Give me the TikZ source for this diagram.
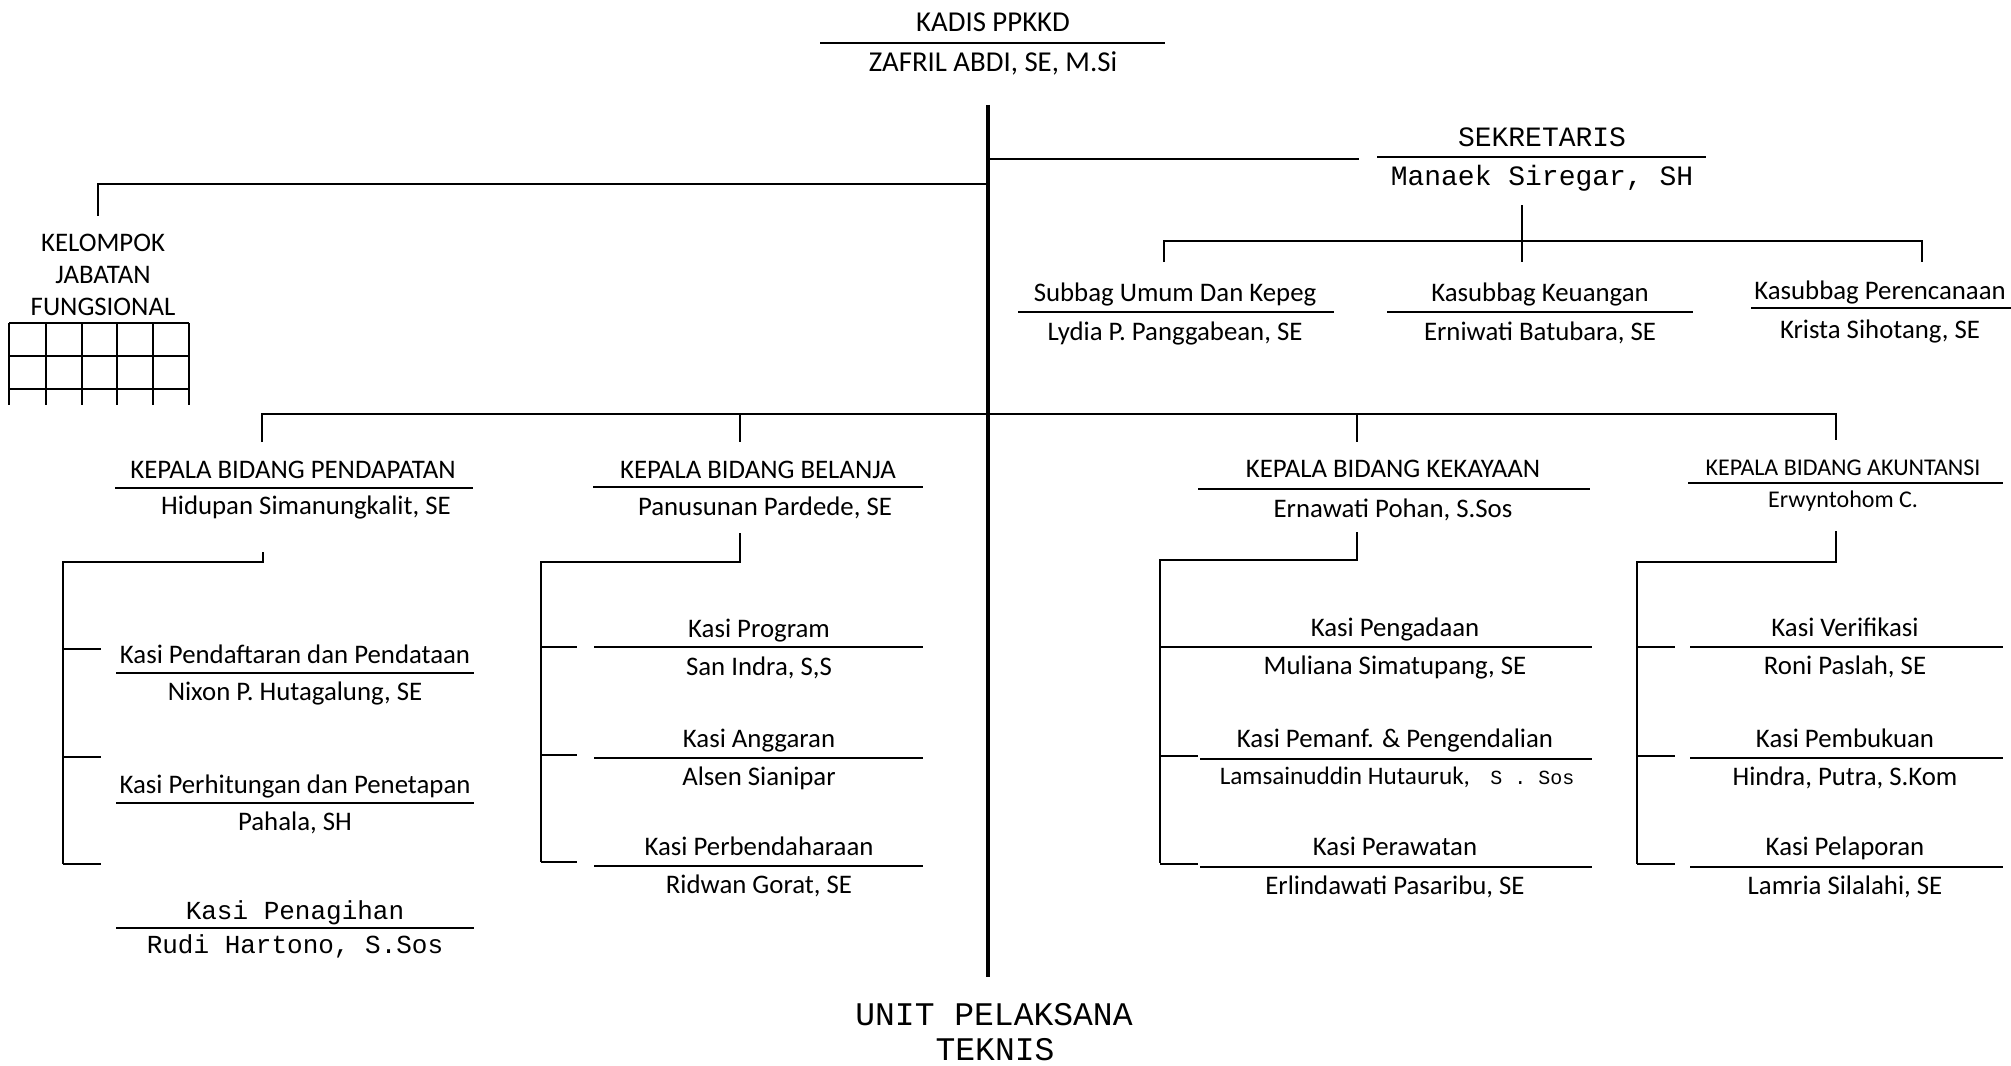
\documentclass[tikz,border=0pt]{standalone}
\usepackage{fontspec}
\setmainfont{Carlito}
\newfontfamily\typew{Liberation Mono}

\begin{document}
\begin{tikzpicture}[x=0.5pt, y=-0.5pt,
    lbl/.style={inner sep=0pt, text height=8.7pt, text depth=0pt, font=\fontsize{13.4}{15}\selectfont},
    big/.style={lbl, font=\fontsize{14.4}{16}\selectfont},
    small/.style={lbl, text height=7.8pt, font=\fontsize{12}{13}\selectfont},
    tw/.style={lbl, font=\typew\fontsize{13}{15}\selectfont},
    twbig/.style={lbl, font=\typew\fontsize{14}{16}\selectfont},
    twhuge/.style={lbl, text height=11pt, font=\typew\fontsize{16.5}{19}\selectfont},
    rule/.style={line width=1.1pt},
    link/.style={line width=0.8pt},
    trunk/.style={line width=1.8pt}]
    \useasboundingbox (0,0) rectangle (2011,1065);

    % Kepala dinas dan sekretariat
    \node[big] (kadis) at (993,23) {KADIS PPKKD};
    \node[big] (zafril) at (993,63) {ZAFRIL ABDI, SE, M.Si};
    \node[twbig] (sek) at (1542,138) {SEKRETARIS};
    \node[twbig] (manaek) at (1542,177) {Manaek Siregar, SH};
    \node[lbl] (umum) at (1175,293) {Subbag Umum Dan Kepeg};
    \node[lbl] (lydia) at (1175,332) {Lydia P. Panggabean, SE};
    \node[lbl] (keu) at (1540,293) {Kasubbag Keuangan};
    \node[lbl] (erniwati) at (1540,332) {Erniwati Batubara, SE};
    \node[lbl] (ren) at (1880,291) {Kasubbag Perencanaan};
    \node[lbl] (krista) at (1880,330) {Krista Sihotang, SE};
    \node[align=center, inner sep=0pt, font=\fontsize{13.4}{16}\selectfont] (kjf) at (103,275) {KELOMPOK\\JABATAN\\FUNGSIONAL};

    % Kepala bidang
    \node[lbl] (pdp) at (293,470) {KEPALA BIDANG PENDAPATAN};
    \node[lbl] (hidupan) at (306,506) {Hidupan Simanungkalit, SE};
    \node[lbl] (blj) at (758,470) {KEPALA BIDANG BELANJA};
    \node[lbl] (panusunan) at (765,507) {Panusunan Pardede, SE};
    \node[lbl] (kky) at (1393,469) {KEPALA BIDANG KEKAYAAN};
    \node[lbl] (ernawati) at (1393,509) {Ernawati Pohan, S.Sos};
    \node[small] (akt) at (1843,468) {KEPALA BIDANG AKUNTANSI};
    \node[small] (erwyn) at (1843,500) {Erwyntohom C.};

    % Kasi bidang pendapatan
    \node[lbl] (pdp1) at (295,655) {Kasi Pendaftaran dan Pendataan};
    \node[lbl] (nixon) at (295,692) {Nixon P. Hutagalung, SE};
    \node[lbl] (pdp2) at (295,785) {Kasi Perhitungan dan Penetapan};
    \node[lbl] (pahala) at (295,822) {Pahala, SH};
    \node[tw] (pdp3) at (295,911) {Kasi Penagihan};
    \node[tw] (rudi) at (295,945) {Rudi Hartono, S.Sos};

    % Kasi bidang belanja
    \node[lbl] (blj1) at (759,629) {Kasi Program};
    \node[lbl] (sanindra) at (759,667) {San Indra, S,S};
    \node[lbl] (blj2) at (759,739) {Kasi Anggaran};
    \node[lbl] (alsen) at (759,777) {Alsen Sianipar};
    \node[lbl] (blj3) at (759,847) {Kasi Perbendaharaan};
    \node[lbl] (ridwan) at (759,885) {Ridwan Gorat, SE};

    % Kasi bidang kekayaan
    \node[lbl] (kky1) at (1395,628) {Kasi Pengadaan};
    \node[lbl] (muliana) at (1395,666) {Muliana Simatupang, SE};
    \node[lbl] (kky2) at (1395,739) {Kasi Pemanf. \& Pengendalian};
    \node[lbl, font=\fontsize{12.6}{14}\selectfont] (lamsai) at (1397,776) {Lamsainuddin Hutauruk,\hspace{0.8em}{\typew\fontsize{10}{12}\selectfont S . Sos}};
    \node[lbl] (kky3) at (1395,847) {Kasi Perawatan};
    \node[lbl] (erlinda) at (1395,886) {Erlindawati Pasaribu, SE};

    % Kasi bidang akuntansi
    \node[lbl] (akt1) at (1845,628) {Kasi Verifikasi};
    \node[lbl] (roni) at (1845,666) {Roni Paslah, SE};
    \node[lbl] (akt2) at (1845,739) {Kasi Pembukuan};
    \node[lbl] (hindra) at (1845,777) {Hindra, Putra, S.Kom};
    \node[lbl] (akt3) at (1845,847) {Kasi Pelaporan};
    \node[lbl] (lamria) at (1845,886) {Lamria Silalahi, SE};

    \node[twhuge] (upt1) at (994,1014) {UNIT PELAKSANA};
    \node[twhuge] (upt2) at (995,1049) {TEKNIS};

    % Garis nama jabatan
    \draw[rule] (820,43) -- (1165,43);
    \draw[rule] (1377,157) -- (1706,157);
    \draw[rule] (1018,312) -- (1334,312);
    \draw[rule] (1387,312) -- (1693,312);
    \draw[rule] (1751,308) -- (2011,308);
    \draw[rule] (115,488) -- (473,488);
    \draw[rule] (593,487) -- (923,487);
    \draw[rule] (1198,489) -- (1590,489);
    \draw[rule] (1688,483) -- (2003,483);
    \foreach \y in {673,803,928} \draw[rule] (116,\y) -- (474,\y);
    \foreach \y in {647,758,866} \draw[rule] (594,\y) -- (923,\y);
    \draw[rule] (1160,647) -- (1592,647);
    \foreach \y in {759,867} \draw[rule] (1200,\y) -- (1592,\y);
    \foreach \y in {647,758,867} \draw[rule] (1690,\y) -- (2003,\y);

    % Garis komando
    \coordinate (t0) at (988,105);
    \coordinate (t1) at (988,977);
    \draw[trunk] (t0) -- (t1);
    \coordinate (jkjf) at (988,184);
    \coordinate (kjfin) at (98,216);
    \draw[link] (jkjf) -| (kjfin);
    \coordinate (jsek) at (988,159);
    \coordinate (sekin) at (1359,159);
    \draw[link] (jsek) -- (sekin);
    \coordinate (seksub) at (1522,205);
    \draw[link] (seksub) -- ++(0,57);
    \draw[link] (1164,262) |- (1922,241) -- ++(0,21);
    \draw[link] (262,442) |- (1836,414) -- ++(0,26);
    \foreach \x in {740,1357} \draw[link] (\x,414) -- ++(0,28);

    \draw[link] (263,552) -- ++(0,10) -| (63,864);
    \foreach \y in {649,757,864} \draw[link] (63,\y) -- ++(38,0);
    \draw[link] (740,533) -- ++(0,29) -| (541,862);
    \foreach \y in {647,755,862} \draw[link] (541,\y) -- ++(36,0);
    \draw[link] (1357,532) -- ++(0,28) -| (1160,863);
    \foreach \y in {756,864} \draw[link] (1160,\y) -- ++(38,0);
    \draw[link] (1836,531) -- ++(0,31) -| (1637,864);
    \foreach \y in {647,756,864} \draw[link] (1637,\y) -- ++(38,0);

    % Kotak jabatan fungsional
    \foreach \y in {323,356,389} \draw[link] (9,\y) -- (189,\y);
    \foreach \x in {9,46,82,117,153,189} \draw[link] (\x,323) -- (\x,405);
\end{tikzpicture}
\end{document}
